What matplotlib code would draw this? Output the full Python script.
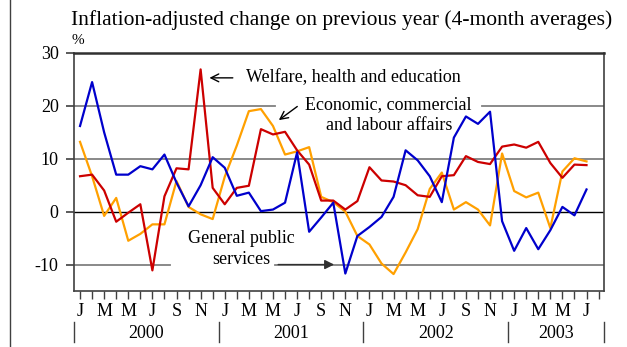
import matplotlib
matplotlib.use('Agg')
import matplotlib.pyplot as plt
from matplotlib.lines import Line2D

plt.rcParams['font.family'] = ['Liberation Serif', 'DejaVu Serif']

# monthly points, Jan 2000 .. Jul 2003
welfare = [6.7, 7.0, 4.0, -1.9, -0.2, 1.4, -11.1, 2.9, 8.2, 8.0,
           26.9, 4.5, 1.4, 4.5, 4.9, 15.6, 14.6, 15.1, 11.6, 8.9,
           2.1, 2.1, 0.4, 2.0, 8.4, 5.9, 5.7, 5.0, 3.1, 2.8,
           6.7, 6.9, 10.5, 9.4, 9.0, 12.3, 12.7, 12.1, 13.2, 9.2,
           6.4, 8.9, 8.8]
economic = [13.2, 6.7, -0.8, 2.6, -5.5, -4.2, -2.4, -2.4, 5.8, 0.9,
            -0.5, -1.4, 6.6, 12.5, 19.0, 19.4, 16.2, 10.8, 11.4, 12.2,
            2.8, 1.8, 0.0, -4.6, -6.2, -9.8, -11.8, -7.7, -3.3, 4.3,
            7.4, 0.4, 1.8, 0.4, -2.6, 11.0, 3.9, 2.7, 3.6, -3.1,
            7.6, 10.1, 9.5]
general = [16.2, 24.5, 15.0, 7.0, 7.0, 8.6, 8.0, 10.8, 5.5, 1.0,
           5.0, 10.3, 8.3, 3.0, 3.6, 0.1, 0.4, 1.7, 11.2, -3.8,
           -1.1, 1.7, -11.7, -4.6, -2.9, -1.0, 2.8, 11.6, 9.7, 6.7,
           1.8, 14.0, 18.0, 16.6, 18.9, -1.8, -7.4, -3.1, -7.1, -3.5,
           0.9, -0.7, 4.2]
month_letters = ['J', 'F', 'M', 'A', 'M', 'J', 'J', 'A', 'S', 'O', 'N', 'D']
years = ['2000', '2001', '2002', '2003']
year_centres = [5.5, 17.5, 29.5, 39.5]
year_breaks = [-0.5, 11.5, 23.5, 35.5, 43.45]
yticks = [30, 20, 10, 0, -10]

months = list(range(len(welfare)))

fig = plt.figure(figsize=(6.27, 3.47), dpi=100)
ax = fig.add_axes([74/627, 1-291/347, 530/627, 238/347])
ax.set_xlim(-0.5, 43.45)
ax.set_ylim(-15, 30)

# gridlines (broken where the labels sit)
grey = '#808080'
ax.plot([-0.5, 16.2], [20, 20], color=grey, lw=1.3, zorder=1)
ax.plot([33.3, 43.45], [20, 20], color=grey, lw=1.3, zorder=1)
ax.plot([-0.5, 43.45], [10, 10], color=grey, lw=1.3, zorder=1)
ax.plot([-0.5, 43.45], [0, 0], color='black', lw=1.0, zorder=1)
ax.plot([-0.5, 7.5], [-10, -10], color=grey, lw=1.3, zorder=1)
ax.plot([16.2, 43.45], [-10, -10], color=grey, lw=1.3, zorder=1)

ax.plot(months, economic, color='#FFA000', lw=1.6, zorder=3)
ax.plot(months, welfare, color='#CC0000', lw=1.6, zorder=3)
ax.plot(months, general, color='#0000CC', lw=1.6, zorder=4)

ax.text(13.8, 25.3, 'Welfare, health and education', fontsize=13, ha='left', va='center')
ax.annotate('', xy=(10.5, 25.3), xytext=(12.9, 25.3),
            arrowprops=dict(arrowstyle='->', color='black', lw=1.0, mutation_scale=14))
ax.text(25.6, 18.2, 'Economic, commercial\nand labour affairs', fontsize=13,
        ha='center', va='center', multialignment='center', linespacing=1.3)
ax.annotate('', xy=(16.3, 17.0), xytext=(18.2, 20.2),
            arrowprops=dict(arrowstyle='->', color='black', lw=1.0, mutation_scale=14))
ax.text(13.4, -7.0, 'General public\nservices', fontsize=13,
        ha='center', va='center', multialignment='center', linespacing=1.3)
ax.annotate('', xy=(21.3, -10), xytext=(16.2, -10),
            arrowprops=dict(arrowstyle='-|>', color='#303030', lw=1.0, mutation_scale=14))

for s in ['left', 'right', 'bottom']:
    ax.spines[s].set_color('#404040')
    ax.spines[s].set_linewidth(1.2)
ax.spines['top'].set_color('#303030')
ax.spines['top'].set_linewidth(1.8)

ax.set_yticks(yticks)
ax.set_yticklabels([str(v) for v in yticks], fontsize=13)
ax.tick_params(axis='y', direction='out', length=6, width=1.2, color='#404040', pad=5)

xt = list(range(44))
ax.set_xticks(xt)
ax.set_xticklabels([month_letters[i % 12] if i % 2 == 0 else '' for i in xt], fontsize=13)
ax.tick_params(axis='x', direction='out', length=6, width=1.0, color='#404040', pad=3)

for b in year_breaks:
    ax.plot([b, b], [-0.13, -0.215], color='#404040', lw=1.0,
            transform=ax.get_xaxis_transform(), clip_on=False)
for yc, yr in zip(year_centres, years):
    ax.text(yc, -0.18, yr, fontsize=13, ha='center', va='center',
            transform=ax.get_xaxis_transform())

fig.text(342/627, 1-20/347, 'Inflation-adjusted change on previous year (4-month averages)',
         fontsize=15.5, ha='center', va='center')
fig.text(78/627, 1-41/347, '%', fontsize=11, ha='center', va='center')
fig.add_artist(Line2D([10/627, 10/627], [0, 1], color='#404040', lw=1.0))

fig.savefig('out.png', dpi=100)
